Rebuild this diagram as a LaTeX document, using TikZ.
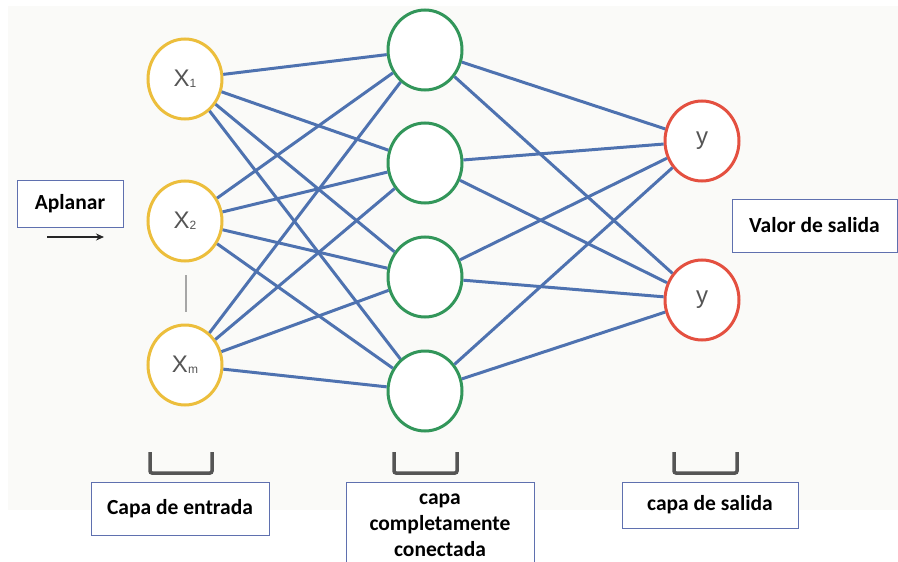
\documentclass[tikz,border=0pt]{standalone}
\usepackage{fontspec}
\setmainfont{Liberation Sans}
\newfontfamily\lblfont{Carlito}
\usetikzlibrary{shapes.geometric,arrows.meta}
\definecolor{bgpanel}{RGB}{250,250,248}
\definecolor{edgeblue}{RGB}{78,114,176}
\definecolor{inring}{RGB}{236,190,60}
\definecolor{hidring}{RGB}{50,150,90}
\definecolor{outring}{RGB}{228,80,64}
\definecolor{boxline}{RGB}{95,112,175}
\definecolor{neurontext}{RGB}{85,85,85}
\definecolor{bracketgrey}{RGB}{85,85,85}
\tikzset{
  neuron/.style={ellipse, minimum width=74pt, minimum height=80pt, inner sep=0pt,
    line width=3pt, fill=white, text=neurontext,
    font=\fontsize{24}{24}\selectfont},
  inneuron/.style={neuron, draw=inring},
  hidneuron/.style={neuron, draw=hidring},
  outneuron/.style={neuron, draw=outring},
  link/.style={draw=edgeblue, line width=3pt},
  labelbox/.style={draw=boxline, line width=1pt, fill=white, inner sep=0pt,
    align=center, font=\lblfont\bfseries\fontsize{21.5}{26}\selectfont},
  layerbracket/.style={draw=bracketgrey, line width=3.5pt, rounded corners=2pt},
}
\newcommand{\sub}[1]{{\fontsize{12}{12}\selectfont\raisebox{-1pt}{#1}}}
\begin{document}
\begin{tikzpicture}[x=1pt, y=-1pt]
\useasboundingbox (0,0) rectangle (898,562);
\fill[white] (0,0) rectangle (898,562);
\fill[bgpanel] (8,6) rectangle (898,510);

% input layer
\node[inneuron] (x1) at (185,79)  {X\sub{1}};
\node[inneuron] (x2) at (185,221) {X\sub{2}};
\node[inneuron] (xm) at (185,365) {X\sub{m}};
\coordinate (dtop) at (186,275);
\coordinate (dbot) at (186,312);
\draw[gray!70, line width=1.5pt] (dtop) -- (dbot);

% fully connected layer
\node[hidneuron] (h1) at (425,50)  {};
\node[hidneuron] (h2) at (425,163) {};
\node[hidneuron] (h3) at (425,277) {};
\node[hidneuron] (h4) at (425,391) {};

% output layer
\node[outneuron] (y1) at (702,141) {y};
\node[outneuron] (y2) at (702,300) {y};

% connections
\foreach \a in {x1,x2,xm}
  \foreach \b in {h1,h2,h3,h4}
    \draw[link] (\a) -- (\b);
\foreach \a in {h1,h2,h3,h4}
  \foreach \b in {y1,y2}
    \draw[link] (\a) -- (\b);

% flatten label and arrow
\node[labelbox, minimum width=106pt, minimum height=47pt] (flat) at (70,203.5) {Aplanar};
\coordinate (fa) at (47,237);
\coordinate (fb) at (104,237);
\draw[line width=1.6pt, color=black!85, -{Stealth[length=8pt,width=7pt]}] (fa) -- (fb);

% output value label
\node[labelbox, minimum width=165pt, minimum height=53pt] (val) at (814.5,225.5) {Valor de salida};

% layer brackets
\draw[layerbracket] (150,452) -- (150,473) -- (212,473) -- (212,452);
\draw[layerbracket] (394,452) -- (394,473) -- (457,473) -- (457,452);
\draw[layerbracket] (674,452) -- (674,473) -- (737,473) -- (737,452);

% layer names
\node[labelbox, minimum width=178pt, minimum height=53pt] (lin) at (180,508.5) {Capa de entrada};
\node[labelbox, minimum width=188pt, minimum height=86pt] (lhid) at (440,525) {capa\\completamente\\conectada};
\node[labelbox, minimum width=176pt, minimum height=46pt] (lout) at (710,505) {capa de salida};
\end{tikzpicture}
\end{document}
